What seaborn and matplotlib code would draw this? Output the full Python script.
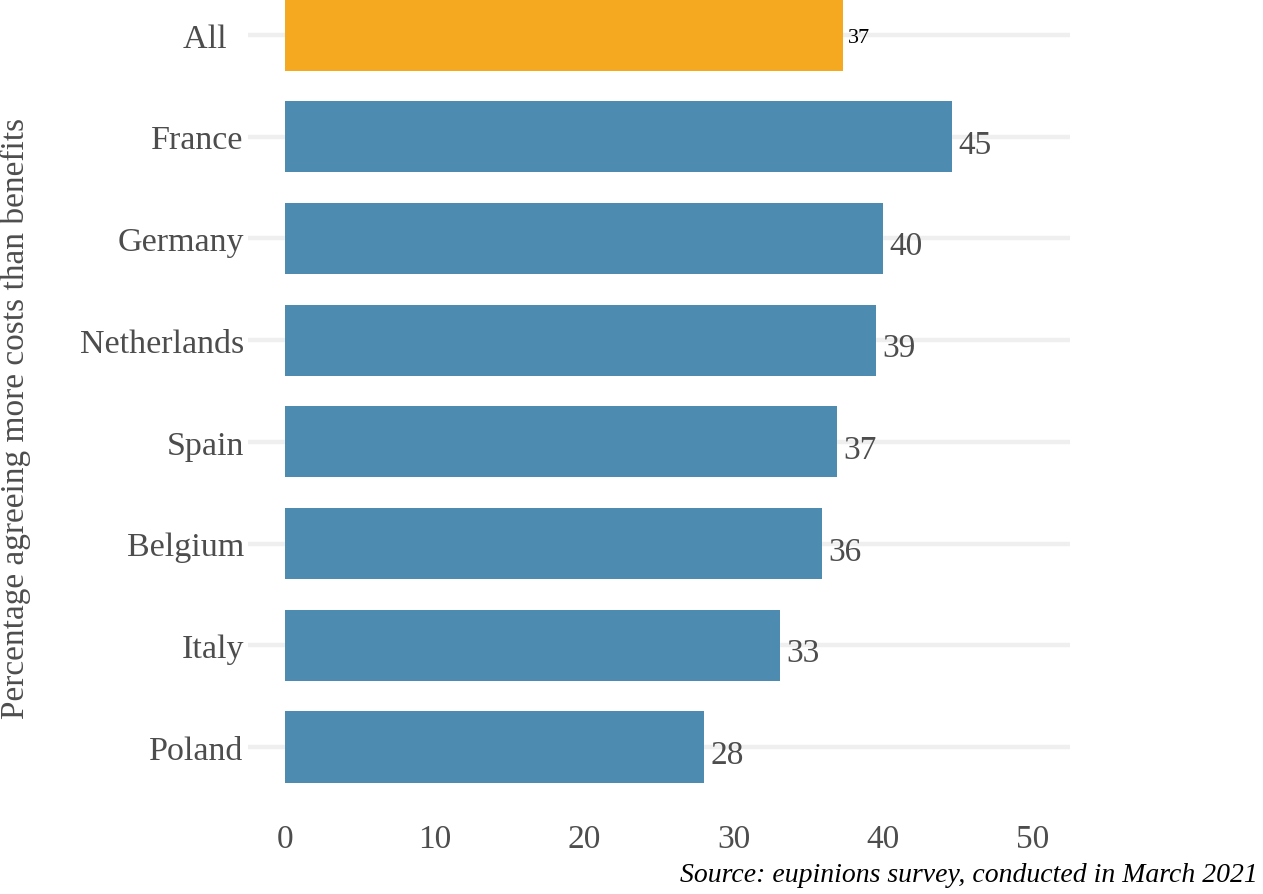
import matplotlib
matplotlib.use('Agg')
import matplotlib.pyplot as plt
import seaborn as sns
import pandas as pd

# 데이터
countries = ['All  ', 'France', 'Germany', 'Netherlands', 'Spain', 'Belgium', 'Italy', 'Poland']
values = [37.3, 44.6, 40.0, 39.5, 36.9, 35.9, 33.1, 28.0]
labels = ['37', '45', '40', '39', '37', '36', '33', '28']
groups = ['all', 'country', 'country', 'country', 'country', 'country', 'country', 'country']
xticks = [0, 10, 20, 30, 40, 50]

df = pd.DataFrame({'country': countries, 'value': values, 'group': groups})

sns.set_style('white')
plt.rcParams['font.family'] = ['Liberation Serif', 'DejaVu Serif']

grey = '#4d4d4d'
fig = plt.figure(figsize=(12.63, 8.95), dpi=100)
ax = fig.add_axes([248 / 1263, 1 - 809 / 895, 822 / 1263, 834 / 895])

# 가로 그리드선
for i in range(len(countries)):
    ax.axhline(i, color='#efefef', lw=3.2, zorder=0)

sns.barplot(data=df, x='value', y='country', hue='group',
            palette={'all': '#f5a920', 'country': '#4e8bb1'},
            width=0.7, dodge=False, legend=False, ax=ax, zorder=2,
            edgecolor='none', saturation=1)

# 막대 끝 값 표시
for i, (v, lab) in enumerate(zip(values, labels)):
    if i == 0:
        ax.annotate(lab, (v, i), xytext=(4, -5), textcoords='offset points',
                    ha='left', va='baseline', fontsize=16, color='black',
                    family=['Liberation Serif'])
    else:
        ax.annotate(lab, (v, i), xytext=(4.5, -11.5), textcoords='offset points',
                    ha='left', va='baseline', fontsize=24, color=grey)

ax.set_xlim(-2.5, 52.5)
ax.set_ylim(7.6, -0.6)
ax.set_xticks(xticks)
ax.set_xticklabels([str(t) for t in xticks])
ax.tick_params(axis='x', length=0, pad=11, labelsize=24, labelcolor=grey)
ax.tick_params(axis='y', length=0, pad=3, labelsize=24.5, labelcolor=grey)
ax.set_xlabel('')
ax.set_ylabel('')
sns.despine(ax=ax, left=True, bottom=True)

fig.text(15 / 1263, 1 - 418 / 895, 'Percentage agreeing more costs than benefits',
         rotation=90, ha='center', va='center', fontsize=24, color=grey)
fig.text(1258 / 1263, 1 - 876 / 895, 'Source: eupinions survey, conducted in March 2021',
         ha='right', va='center', fontsize=20, style='italic', color='black')

fig.savefig('out.png', dpi=100)
